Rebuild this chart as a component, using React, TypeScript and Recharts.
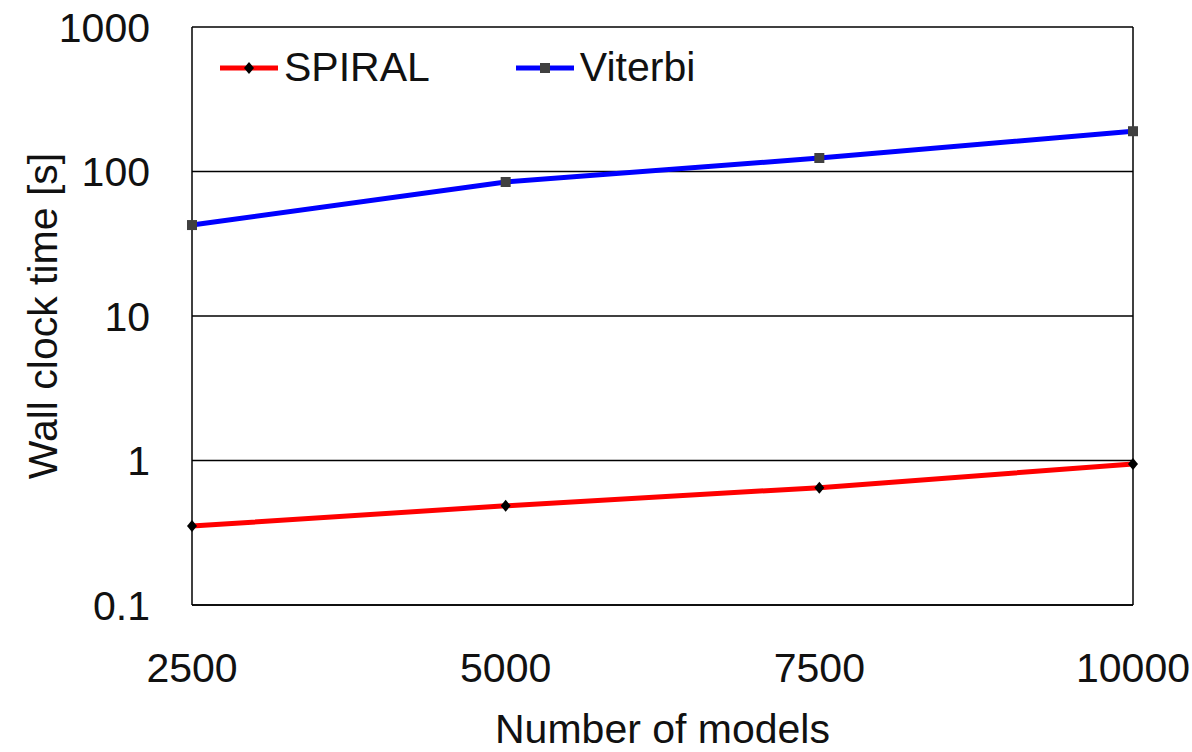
import {
  LineChart,
  Line,
  XAxis,
  YAxis,
  CartesianGrid,
  ReferenceLine,
  Legend,
} from 'recharts';

// x categories (number of models)
const models = [2500, 5000, 7500, 10000];
// wall clock time [s]
const spiralTimes = [0.352, 0.486, 0.649, 0.946];
const viterbiTimes = [42.6, 84.6, 124, 190];

const xTicks = [2500, 5000, 7500, 10000];
const yTicks = [0.1, 1, 10, 100, 1000];

const data = models.map((m, i) => ({
  models: m,
  spiral: spiralTimes[i],
  viterbi: viterbiTimes[i],
}));

const FONT = '"Liberation Sans", Arial, sans-serif';
const TEXT = '#111';

function Diamond(props: any) {
  const { cx, cy } = props;
  if (cx == null || cy == null) return null;
  return (
    <path
      d={`M${cx},${cy - 6}L${cx + 5},${cy}L${cx},${cy + 6}L${cx - 5},${cy}Z`}
      fill="#000"
    />
  );
}

function Square(props: any) {
  const { cx, cy } = props;
  if (cx == null || cy == null) return null;
  return <rect x={cx - 5} y={cy - 5} width={10} height={10} fill="#404040" />;
}

function LegendContent() {
  const item = (label: string, color: string, marker: 'diamond' | 'square', gap: number) => (
    <div style={{ display: 'flex', alignItems: 'center', marginRight: gap }}>
      <svg width={62} height={20}>
        <line x1={2} y1={10} x2={60} y2={10} stroke={color} strokeWidth={5} />
        {marker === 'diamond' ? (
          <path d="M31,4L36,10L31,16L26,10Z" fill="#000" />
        ) : (
          <rect x={26} y={5} width={10} height={10} fill="#404040" />
        )}
      </svg>
      <span style={{ fontFamily: FONT, fontSize: 41, color: TEXT, marginLeft: 4 }}>{label}</span>
    </div>
  );
  return (
    <div style={{ display: 'flex', alignItems: 'center' }}>
      {item('SPIRAL', '#ff0000', 'diamond', 84)}
      {item('Viterbi', '#0000ff', 'square', 0)}
    </div>
  );
}

export default function App() {
  return (
    <div style={{ position: 'absolute', left: 0, top: 0, background: '#fff' }}>
      <LineChart
        width={1192}
        height={752}
        data={data}
        margin={{ top: 27, right: 59, bottom: 47, left: 42 }}
      >
        <CartesianGrid vertical={false} stroke="#000" strokeWidth={1.5} />
        <XAxis
          dataKey="models"
          type="number"
          domain={[2500, 10000]}
          ticks={xTicks}
          tickLine={false}
          tickSize={0}
          tickMargin={48}
          height={100}
          axisLine={{ stroke: '#000', strokeWidth: 1.5 }}
          tick={{ fill: TEXT, fontSize: 41, fontFamily: FONT }}
          interval={0}
          label={{
            content: ({ viewBox }: any) => (
              <text
                x={viewBox.x + viewBox.width / 2}
                y={743}
                textAnchor="middle"
                fill={TEXT}
                fontSize={41}
                fontFamily={FONT}
              >
                Number of models
              </text>
            ),
          }}
        />
        <YAxis
          scale="log"
          domain={[0.1, 1000]}
          ticks={yTicks}
          allowDataOverflow
          width={150}
          tickLine={false}
          tickSize={0}
          tickMargin={42}
          axisLine={{ stroke: '#000', strokeWidth: 1.5 }}
          tick={{ fill: TEXT, fontSize: 41, fontFamily: FONT }}
          tickFormatter={(v: number) => String(v)}
          interval={0}
          label={{
            content: ({ viewBox }: any) => {
              const cx = 43;
              const cy = viewBox.y + viewBox.height / 2;
              return (
                <text
                  x={cx}
                  y={cy}
                  transform={`rotate(-90, ${cx}, ${cy})`}
                  textAnchor="middle"
                  dominantBaseline="central"
                  fill={TEXT}
                  fontSize={41}
                  fontFamily={FONT}
                >
                  Wall clock time [s]
                </text>
              );
            },
          }}
        />
        <ReferenceLine x={10000} stroke="#000" strokeWidth={1.5} />
        <Legend
          layout="horizontal"
          verticalAlign="middle"
          align="center"
          content={<LegendContent />}
          wrapperStyle={{ top: 44, left: 218, width: 'auto', height: 'auto' }}
        />
        <Line
          type="linear"
          dataKey="spiral"
          name="SPIRAL"
          stroke="#ff0000"
          strokeWidth={5}
          dot={<Diamond />}
          activeDot={false}
          isAnimationActive={false}
        />
        <Line
          type="linear"
          dataKey="viterbi"
          name="Viterbi"
          stroke="#0000ff"
          strokeWidth={5}
          dot={<Square />}
          activeDot={false}
          isAnimationActive={false}
        />
      </LineChart>
    </div>
  );
}
